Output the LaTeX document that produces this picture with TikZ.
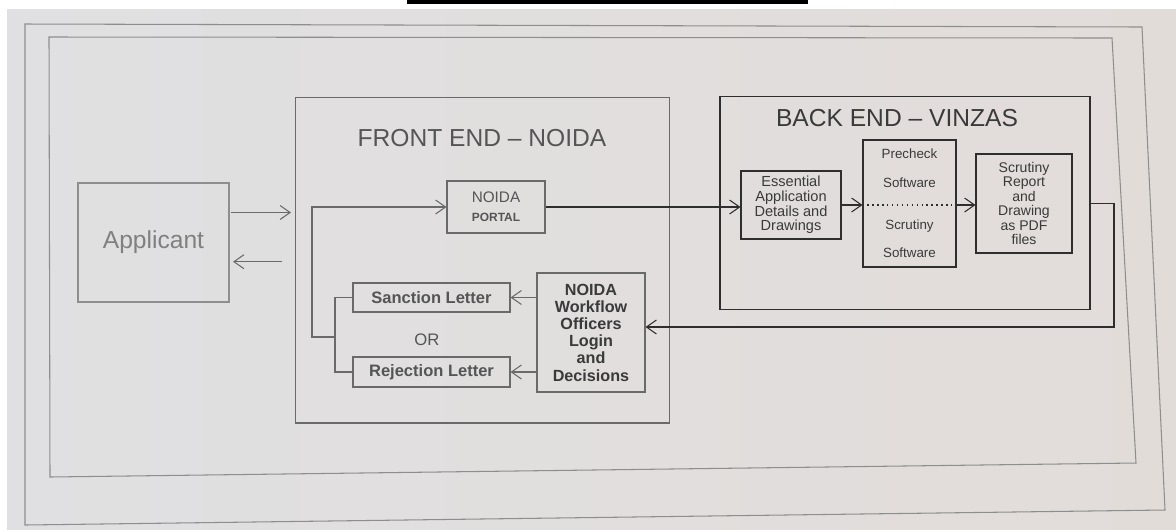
\documentclass[tikz,border=0pt]{standalone}
\usepackage{fontspec}
\setmainfont{Liberation Sans}
\usetikzlibrary{arrows.meta,calc,positioning}
\definecolor{pagegray}{HTML}{E0E0E2}
\definecolor{pagewarm}{HTML}{E2DCD9}
\definecolor{framegray}{HTML}{8E8E8E}
\definecolor{fegray}{HTML}{6A6A6A}
\definecolor{fetext}{HTML}{555555}
\definecolor{beline}{HTML}{2E2E2E}
\definecolor{betext}{HTML}{3A3A3A}

\begin{document}
\begin{tikzpicture}[x=0.02cm, y=-0.02cm,
  box/.style={draw=fegray, line width=0.6pt, inner sep=0pt, align=center,
              text=fetext},
  bebox/.style={box, draw=beline, text=betext},
  frame/.style={draw=fegray, line width=0.6pt, inner sep=0pt},
  beframe/.style={frame, draw=beline, line width=0.7pt},
  title/.style={text=fetext, font=\fontsize{14}{16}\selectfont},
  arrow/.style={-{Straight Barb[length=2mm,width=2.8mm]}, draw=fegray, line width=0.6pt},
  bearrow/.style={arrow, draw=beline},
]
  \useasboundingbox (0,0) rectangle (1176,529);
  % photographed page, slightly skewed frames
  \shade[left color=pagegray, right color=pagewarm] (7,9) rectangle (1176,529);
  \fill[black] (407,0) rectangle (808,4);
  \draw[framegray, line width=0.6pt] (25,24) -- (1142,27) -- (1165,510) -- (25,525) -- cycle;
  \draw[framegray, line width=0.6pt] (49,37) -- (1112,38) -- (1136,463) -- (50,477) -- cycle;

  % applicant
  \node[box, draw=framegray, text=gray, minimum width=3.02cm, minimum height=2.38cm,
        font=\fontsize{14}{16}\selectfont] (applicant) at (153.5,242.5) {Applicant};

  % front end
  \node[frame, minimum width=7.5cm, minimum height=6.52cm] (front) at (482.5,260) {};
  \node[title] (front-title) at (482,138) {FRONT END – NOIDA};
  \node[box, minimum width=1.96cm, minimum height=1.04cm] (portal) at (496,207)
    {\fontsize{8.7}{10}\selectfont NOIDA\\[-1pt]\fontsize{6.8}{8}\selectfont\bfseries PORTAL};
  \node[box, minimum width=3.14cm, minimum height=0.58cm,
        font=\fontsize{9.4}{11}\selectfont\bfseries] (sanction) at (431.5,297.5) {Sanction Letter};
  \node[box, minimum width=3.14cm, minimum height=0.6cm,
        font=\fontsize{9.4}{11}\selectfont\bfseries] (rejection) at (431.5,372) {Rejection Letter};
  \node[text=fetext, font=\fontsize{9.5}{11}\selectfont] (or) at (427,340) {OR};
  \node[box, text=betext, minimum width=2.16cm, minimum height=2.38cm,
        font=\fontsize{9.2}{9.8}\selectfont\bfseries] (workflow) at (591,332.5)
    {NOIDA\\Workflow\\Officers\\Login\\and\\Decisions};

  % back end
  \node[beframe, minimum width=7.4cm, minimum height=4.26cm] (back) at (905,203) {};
  \node[title, text=betext] (back-title) at (897,118) {BACK END – VINZAS};
  \node[bebox, minimum width=2.0cm, minimum height=1.36cm,
        font=\fontsize{8.3}{8.4}\selectfont] (essential) at (791,205)
    {Essential\\Application\\Details and\\Drawings};
  \node[bebox, minimum width=1.86cm, minimum height=2.54cm,
        font=\fontsize{7.6}{9}\selectfont] (check) at (909.5,203.5)
    {Precheck\\[7.5pt]Software\\[15pt]Scrutiny\\[7pt]Software};
  \node[bebox, minimum width=1.92cm, minimum height=1.98cm,
        font=\fontsize{8}{8.3}\selectfont] (report) at (1024,203.5)
    {Scrutiny\\Report\\and\\Drawing\\as PDF\\files};

  % applicant <-> front end
  \path ($(applicant.north east)!.25!(applicant.south east)$) coordinate (app-out)
        ($(applicant.north east)!.66!(applicant.south east)$) coordinate (app-in);
  \draw[arrow, shorten <=1pt, shorten >=2pt] (app-out) -- (app-out -| front.west);
  \draw[arrow, shorten <=7pt, shorten >=2pt] (app-in -| front.west) -- (app-in);

  % portal -> back end chain
  \draw[bearrow] (portal.east) -- (portal.east -| essential.west);
  \draw[bearrow] (essential.east) -- (essential.east -| check.west);
  \draw[beline, dotted, line width=0.8pt] (check.west |- essential.east) -- (check.east |- essential.east);
  \draw[bearrow] (check.east |- essential.east) -- (report.west |- essential.east);

  % result back to the officers
  \coordinate (fb-corner) at (1114,327);
  \draw[bearrow] (back.east |- report.east) -| (fb-corner) -- (fb-corner -| workflow.east);

  % decisions -> letters -> portal
  \draw[arrow] (workflow.west |- sanction.east) -- (sanction.east);
  \draw[arrow] (workflow.west |- rejection.east) -- (rejection.east);
  \coordinate (join) at (335,337);
  \coordinate (loop) at (312,337);
  \draw[fegray, line width=0.6pt] (sanction.west) -| (join) |- (rejection.west);
  \draw[arrow] (join) -- (loop) |- (portal.west);
\end{tikzpicture}
\end{document}
